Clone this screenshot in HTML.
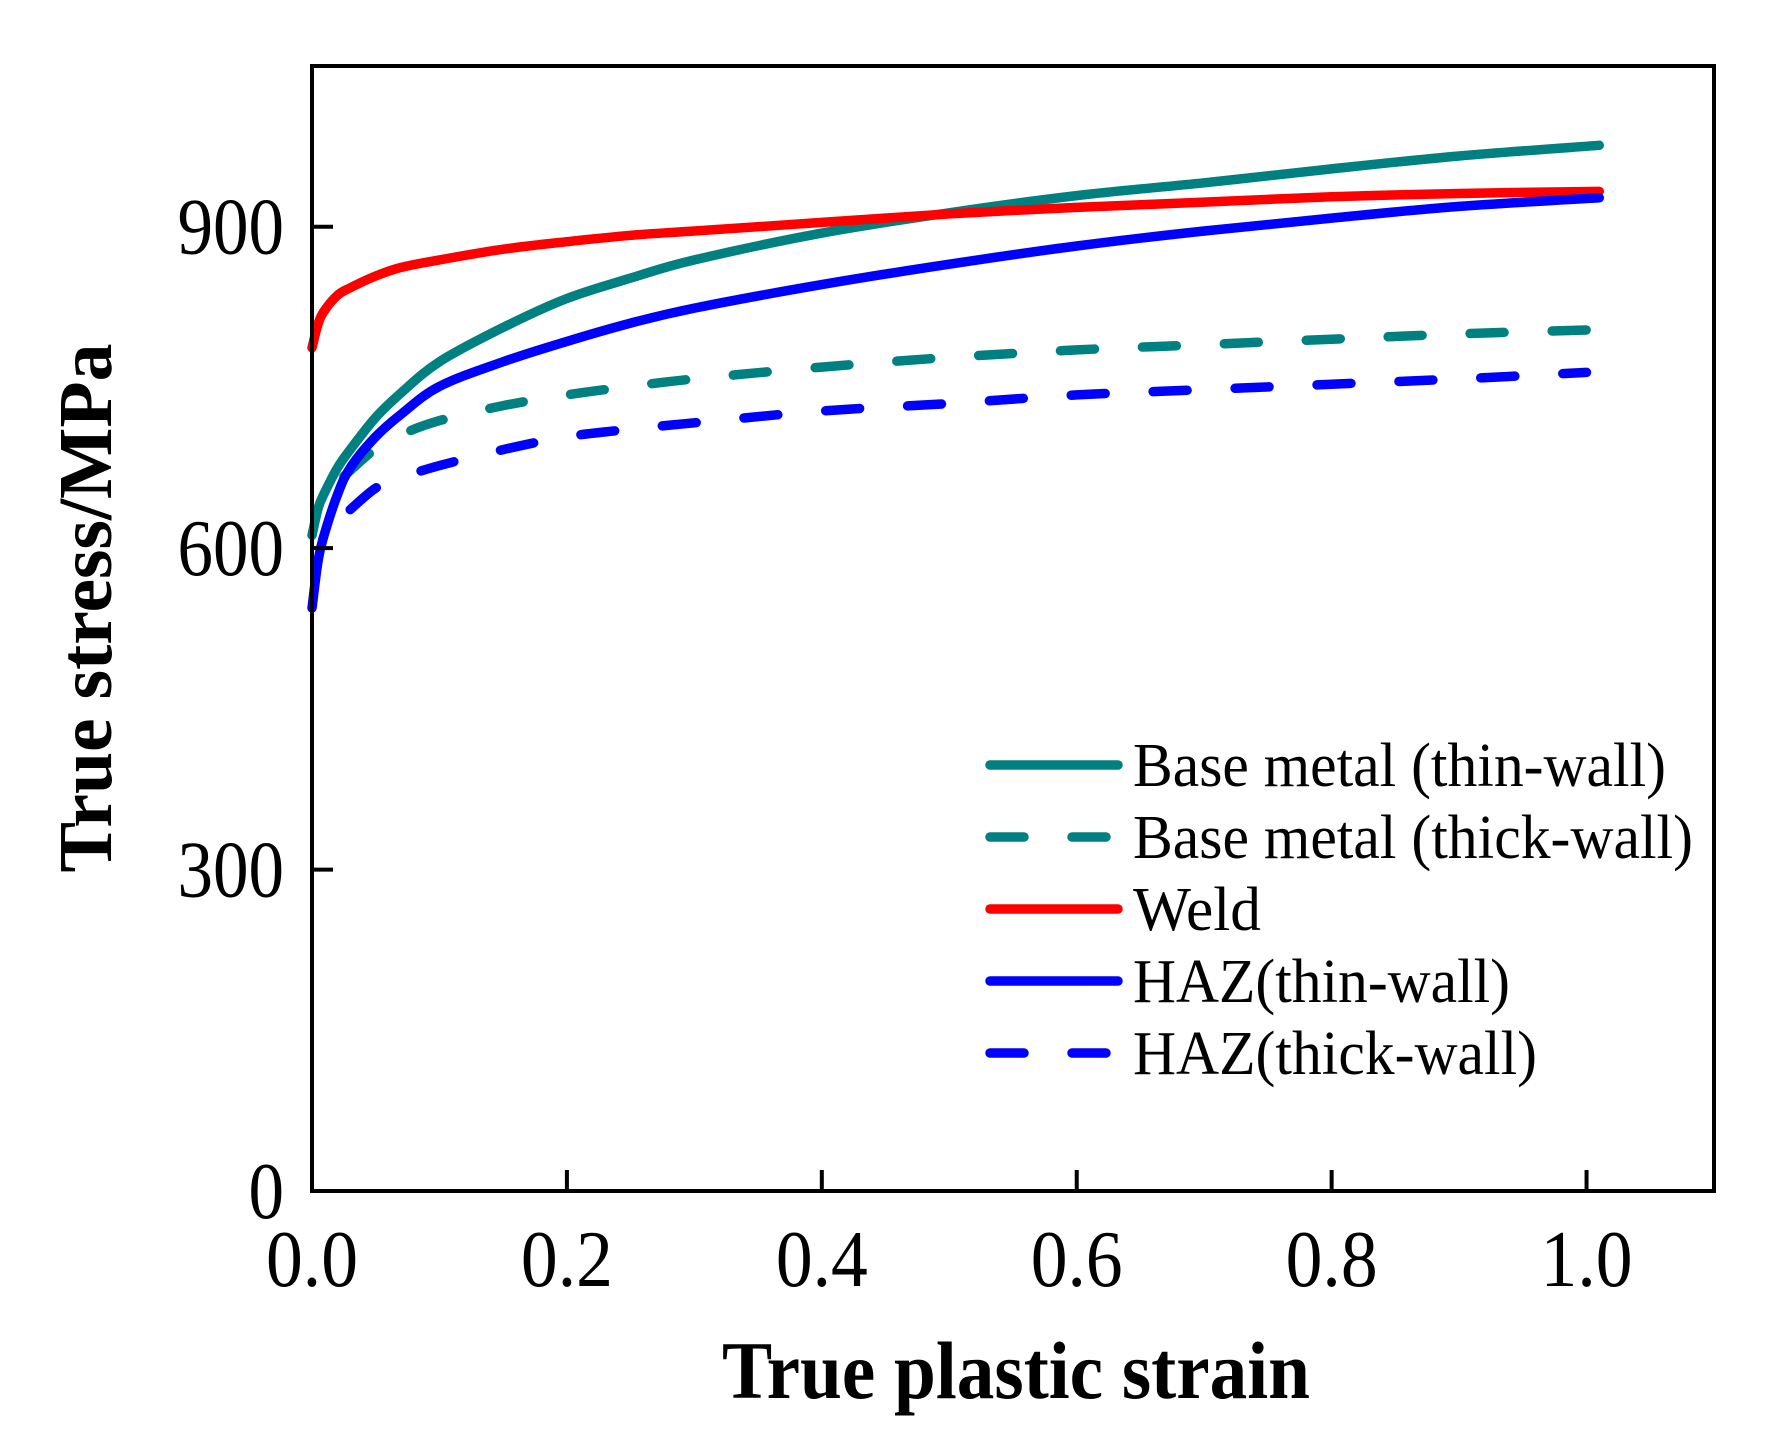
<!DOCTYPE html>
<html><head><meta charset="utf-8"><style>
html,body{margin:0;padding:0;background:#fff;}
svg{display:block;font-family:"Liberation Serif",serif;}
</style></head><body>
<svg id="chart" width="1779" height="1433" viewBox="0 0 1779 1433" xmlns="http://www.w3.org/2000/svg">
<g id="plot"></g>
<rect x="312" y="66" width="1402" height="1125" fill="none" stroke="#000" stroke-width="4"/>
<g id="axes"></g>
<text x="1016" y="1398" font-size="82" font-weight="bold" text-anchor="middle" textLength="588" lengthAdjust="spacingAndGlyphs">True plastic strain</text>
<text transform="translate(111,608) rotate(-90)" font-size="76" font-weight="bold" text-anchor="middle" textLength="529" lengthAdjust="spacingAndGlyphs">True stress/MPa</text>
<g id="legend"></g>
</svg>
<script>
const xTicks=[0,0.2,0.4,0.6,0.8,1.0];
const xTickLabels=["0.0","0.2","0.4","0.6","0.8","1.0"];
const yTicks=[0,300,600,900];
const yTickLabels=["0","300","600","900"];
const seriesNames=["Base metal (thin-wall)","Base metal (thick-wall)","Weld","HAZ(thin-wall)","HAZ(thick-wall)"];
const baseThinX=[0,0.005,0.01,0.02,0.03,0.05,0.07,0.1,0.15,0.2,0.25,0.3,0.4,0.5,0.6,0.7,0.8,0.9,1.01];
const baseThinY=[612,638,652,675,692,722,745,774,806,833,852,869,894,913,929,941,954,966,976];
const baseThickX=[0.025,0.05,0.07,0.1,0.15,0.2,0.25,0.3,0.4,0.5,0.6,0.7,0.8,0.9,1.01];
const baseThickY=[667,693,706,719,733,743,751,758,769,778,785,790,795,800,804];
const weldX=[0,0.005,0.01,0.02,0.03,0.05,0.07,0.1,0.15,0.2,0.25,0.3,0.4,0.5,0.6,0.7,0.8,0.9,1.01];
const weldY=[787,810,822,836,843,854,862,869,879,886,892,896,904,912,918,923,928,931,933];
const hazThinX=[0,0.005,0.01,0.02,0.03,0.05,0.07,0.1,0.15,0.2,0.25,0.3,0.4,0.5,0.6,0.7,0.8,0.9,1.01];
const hazThinY=[544,590,614,650,675,704,725,751,774,793,810,824,846,865,882,896,908,919,927];
const hazThickX=[0.03,0.05,0.07,0.1,0.15,0.2,0.25,0.3,0.4,0.5,0.6,0.7,0.8,0.9,1.0];
const hazThickY=[636,656,666,677,692,704,711,717,728,735,743,748,753,758,764];

const NS="http://www.w3.org/2000/svg";
const X=v=>312+v/1.1*1402;
const Y=v=>1191-v/1050*1125;
function mk(tag,attrs,parent){const e=document.createElementNS(NS,tag);for(const k in attrs)e.setAttribute(k,attrs[k]);parent.appendChild(e);return e;}
function smooth(p){
  let d='M'+p[0][0].toFixed(1)+','+p[0][1].toFixed(1);
  for(let i=0;i<p.length-1;i++){
    const p0=p[i-1]||p[i],p1=p[i],p2=p[i+1],p3=p[i+2]||p2;
    const c1=[p1[0]+(p2[0]-p0[0])/6,p1[1]+(p2[1]-p0[1])/6];
    const c2=[p2[0]-(p3[0]-p1[0])/6,p2[1]-(p3[1]-p1[1])/6];
    d+=' C'+c1[0].toFixed(1)+','+c1[1].toFixed(1)+' '+c2[0].toFixed(1)+','+c2[1].toFixed(1)+' '+p2[0].toFixed(1)+','+p2[1].toFixed(1);
  }
  return d;
}
const axes=document.getElementById('axes');
xTicks.forEach((t,i)=>{
  const l=mk('line',{x1:X(t),x2:X(t),y1:1191,y2:1170,stroke:'#000','stroke-width':4},axes);
  
  
  const tx=mk('text',{x:X(t),y:1286,'font-size':80,'text-anchor':'middle',textLength:92,lengthAdjust:'spacingAndGlyphs'},axes);
  tx.textContent=xTickLabels[i];
  
  
});
yTicks.forEach((t,i)=>{
  const l=mk('line',{x1:312,x2:333,y1:Y(t),y2:Y(t),stroke:'#000','stroke-width':4},axes);
  
  
  const tx=mk('text',{x:284,y:Y(t)+27,'font-size':80,'text-anchor':'end',textLength:yTickLabels[i].length*35.5,lengthAdjust:'spacingAndGlyphs'},axes);
  tx.textContent=yTickLabels[i];
  
  
});
const plot=document.getElementById('plot');
const series=[
 {xs:baseThinX,ys:baseThinY,c:'#008080',d:null,n:'base-thin-line'},
 {xs:baseThickX,ys:baseThickY,c:'#008080',d:'34 48',n:'base-thick-line'},
 {xs:weldX,ys:weldY,c:'#ff0000',d:null,n:'weld-line'},
 {xs:hazThinX,ys:hazThinY,c:'#0000ff',d:null,n:'haz-thin-line'},
 {xs:hazThickX,ys:hazThickY,c:'#0000ff',d:'34 48',n:'haz-thick-line'}
];
const drawOrder=[1,4,0,2,3];
drawOrder.forEach(i=>{
  const s=series[i];
  const pts=s.xs.map((x,j)=>[X(x),Y(s.ys[j])]);
  const attrs={d:smooth(pts),fill:'none',stroke:s.c,'stroke-width':9.5,'stroke-linecap':'round','stroke-linejoin':'round'};
  if(s.d)attrs['stroke-dasharray']=s.d;
  const p=mk('path',attrs,plot);
  
  
});
const leg=document.getElementById('legend');
const rowY=[765,837,909,981,1053];
const textW=[533,560,128,377,404];
series.forEach((s,i)=>{
  const attrs={x1:990,x2:1118,y1:rowY[i],y2:rowY[i],stroke:s.c,'stroke-width':9.5,'stroke-linecap':'round'};
  if(s.d)attrs['stroke-dasharray']=s.d;
  const l=mk('line',attrs,leg);
  
  
  const t=mk('text',{x:1133,y:rowY[i]+21,'font-size':62,textLength:textW[i],lengthAdjust:'spacingAndGlyphs'},leg);
  t.textContent=seriesNames[i];
  
  
});
</script>
</body></html>
